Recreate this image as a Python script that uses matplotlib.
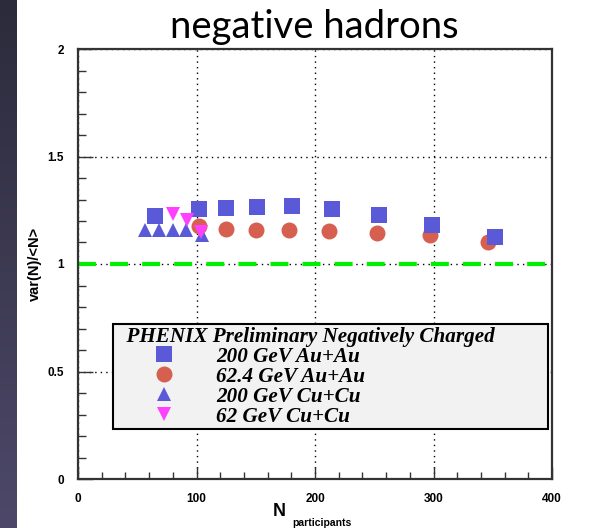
import numpy as np
import matplotlib.pyplot as plt
from matplotlib.ticker import MultipleLocator

# 200 GeV Au+Au
npart_auau200 = [65, 102, 125, 151, 181, 214, 254, 299, 352]
ratio_auau200 = [1.223, 1.256, 1.262, 1.267, 1.271, 1.258, 1.228, 1.181, 1.124]
# 62.4 GeV Au+Au
npart_auau62 = [102, 125, 150, 178, 212, 252, 297, 346]
ratio_auau62 = [1.177, 1.163, 1.158, 1.158, 1.152, 1.143, 1.135, 1.104]
# 200 GeV Cu+Cu
npart_cucu200 = [56.6, 68.4, 80.2, 91.3, 104.5]
ratio_cucu200 = [1.158, 1.158, 1.158, 1.158, 1.133]
# 62 GeV Cu+Cu
npart_cucu62 = [80, 92, 104]
ratio_cucu62 = [1.232, 1.205, 1.149]

poisson = 1.0
labels = ['200 GeV Au+Au', '62.4 GeV Au+Au', '200 GeV Cu+Cu', '62 GeV Cu+Cu']

blue = '#5a5ad8'
red = '#d65f50'
magenta = '#ff40ff'

fig = plt.figure(figsize=(5.94, 5.28), dpi=100)

# dark strip at the left edge (slide background)
bg = fig.add_axes([0, 0, 17 / 594, 1])
grad = np.linspace(0, 1, 256)[:, None]
bg.imshow(grad, aspect='auto', cmap=plt.matplotlib.colors.LinearSegmentedColormap.from_list(
    'strip', ['#2c2b3b', '#4d4869']), origin='upper')
bg.axis('off')

ax = fig.add_axes([78 / 594, 49 / 528, 474 / 594, 430 / 528])
ax.set_xlim(0, 400)
ax.set_ylim(0, 2)

ax.grid(True, which='major', color='black', linestyle=(0, (1, 3)), linewidth=1.0)
ax.set_axisbelow(True)

ax.axhline(poisson, color='#00ee00', linewidth=3, linestyle=(0, (4.3, 3.4)), zorder=2)

h_circ, = ax.plot(npart_auau62, ratio_auau62, 'o', color=red, markersize=11.5, markeredgewidth=0, zorder=3)
h_sq, = ax.plot(npart_auau200, ratio_auau200, 's', color=blue, markersize=12, markeredgewidth=0, zorder=4)
h_tri, = ax.plot(npart_cucu200, ratio_cucu200, '^', color=blue, markersize=10, markeredgewidth=0, zorder=5)
h_inv, = ax.plot(npart_cucu62, ratio_cucu62, 'v', color=magenta, markersize=10.5, markeredgewidth=0, zorder=6)

ax.xaxis.set_major_locator(MultipleLocator(100))
ax.xaxis.set_minor_locator(MultipleLocator(20))
ax.yaxis.set_major_locator(MultipleLocator(0.5))
ax.yaxis.set_minor_locator(MultipleLocator(0.1))
ax.set_yticks([0, 0.5, 1, 1.5, 2])
ax.set_yticklabels(['0', '0.5', '1', '1.5', '2'])

ax.tick_params(axis='x', which='major', direction='in', length=9, width=1, color='#333333',
               top=False, pad=10, labelsize=8.5)
ax.tick_params(axis='x', which='minor', direction='in', length=5, width=1, color='#333333', top=False)
ax.tick_params(axis='y', which='major', direction='in', length=11, width=1, color='#333333',
               right=False, pad=10, labelsize=8.5)
ax.tick_params(axis='y', which='minor', direction='in', length=6, width=1, color='#333333', right=False)
for lab in ax.get_xticklabels() + ax.get_yticklabels():
    lab.set_fontweight('bold')
    lab.set_family('Liberation Sans')
for sp in ax.spines.values():
    sp.set_linewidth(1.6)
    sp.set_color('#333333')

ax.set_ylabel('var(N)/<N>', fontsize=10.5, fontweight='bold', family='Liberation Sans', labelpad=4)

fig.text(279 / 594, 1 - 512 / 528, 'N', fontsize=13, fontweight='bold', family='Liberation Sans',
         ha='center', va='center')
fig.text(322 / 594, 1 - 523 / 528, 'participants', fontsize=7.5, fontweight='bold',
         family='Liberation Sans', ha='center', va='center')

fig.text(314 / 594, 1 - 38 / 528, 'negative hadrons', fontsize=27.5, family='Lato',
         ha='center', va='baseline')

legfont = {'family': 'Liberation Serif', 'weight': 'bold', 'style': 'italic', 'size': 15.2}
leg = ax.legend([h_sq, h_circ, h_tri, h_inv], labels,
                title='  PHENIX Preliminary Negatively Charged',
                loc='upper left', bbox_to_anchor=(35 / 474, (479 - 324) / 430, 435 / 474, 0),
                mode='expand', numpoints=1, fancybox=False, framealpha=1,
                facecolor='#f2f2f2', edgecolor='black', borderpad=0.12, handlelength=4.6,
                handletextpad=0.15, labelspacing=0.0, borderaxespad=0, handleheight=0.6,
                prop=legfont, title_fontproperties=legfont, alignment='left')
leg.get_frame().set_linewidth(1.5)
leg._legend_box.sep = 0

fig.savefig('out.png', dpi=100)
